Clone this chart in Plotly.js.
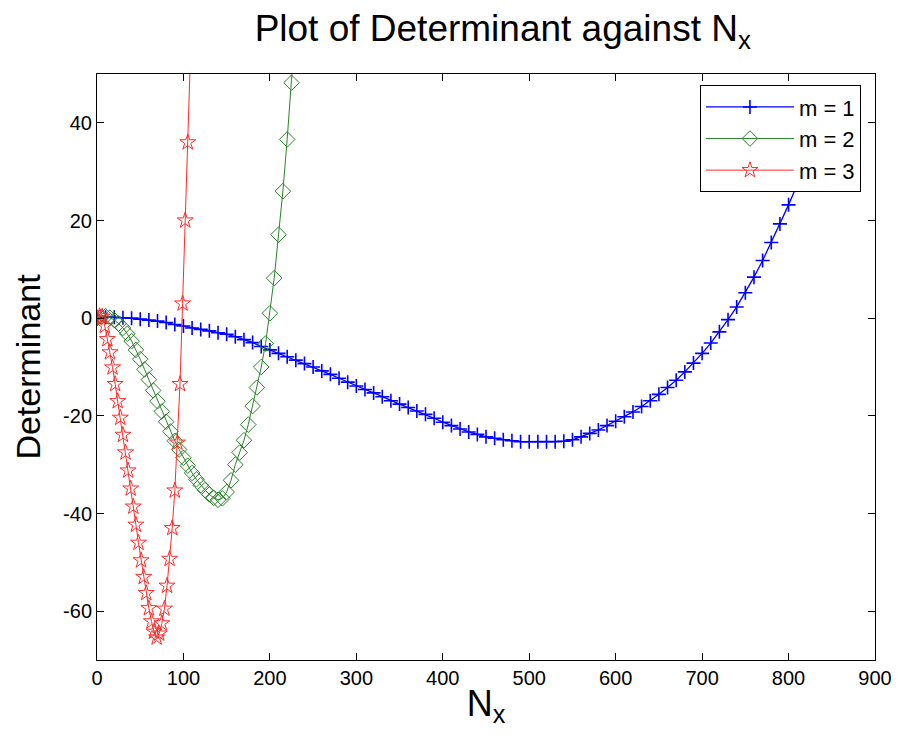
<!DOCTYPE html>
<html>
<head>
<meta charset="utf-8">
<script src="https://cdn.plot.ly/plotly-3.0.1.min.js"></script>
<style>html,body{margin:0;padding:0;background:#fff;}#chart{width:901px;height:746px;}</style>
</head>
<body>
<div id="chart"></div>
<script>
// m = 1 (N_x step 10)
const xM1 = [0,10,20,30,40,50,60,70,80,90,100,110,120,130,140,150,160,170,180,190,200,210,220,230,240,250,260,270,280,290,300,310,320,330,340,350,360,370,380,390,400,410,420,430,440,450,460,470,480,490,500,510,520,530,540,550,560,570,580,590,600,610,620,630,640,650,660,670,680,690,700,710,720,730,740,750,760,770,780,790,800,810,820,830,840];
const yM1 = [0,0.2,0.2,0.1,0,-0.2,-0.4,-0.6,-0.9,-1.3,-1.6,-2.0,-2.3,-2.6,-3.0,-3.3,-3.8,-4.4,-5.0,-5.8,-6.5,-7.2,-7.9,-8.6,-9.3,-10.0,-10.8,-11.5,-12.3,-13.1,-13.9,-14.6,-15.3,-16.1,-16.9,-17.6,-18.3,-19.0,-19.7,-20.5,-21.3,-22.0,-22.7,-23.3,-23.8,-24.3,-24.6,-24.9,-25.1,-25.3,-25.3,-25.3,-25.3,-25.3,-25.2,-24.9,-24.3,-23.6,-22.9,-22.0,-21.1,-20.2,-19.2,-18.1,-16.9,-15.6,-14.2,-12.7,-11.0,-9.2,-7.2,-5.1,-2.8,-0.3,2.3,5.2,8.4,11.8,15.5,19.3,23.2,27.3,31.7,36.3,41.1];
// m = 2 (N_x step 5)
const xM2 = [0,5,10,15,20,25,30,35,40,45,50,55,60,65,70,75,80,85,90,95,100,105,110,115,120,125,130,135,140,145,150,155,160,165,170,175,180,185,190,195,200,205,210,215,220,225,230];
const yM2 = [0,0.3,0.4,0.1,-0.4,-1.1,-2.0,-3.2,-4.7,-6.5,-8.4,-10.5,-12.6,-14.8,-17.0,-19.1,-21.2,-23.2,-25.1,-26.9,-28.6,-30.2,-31.7,-33.0,-34.2,-35.2,-36.1,-36.8,-37.2,-36.9,-35.6,-33.2,-30.0,-27.5,-25.0,-21.8,-18.0,-14.2,-10.0,-5.2,1.0,8.2,17.1,26.0,36.6,48.2,61.0];
// m = 3 (N_x step 3)
const xM3 = [0,3,6,9,12,15,18,21,24,27,30,33,36,39,42,45,48,51,54,57,60,63,66,69,72,75,78,81,84,87,90,93,96,99,102,105,108,111];
const yM3 = [0,0.4,0.3,-1.6,-4.3,-7.0,-10.1,-13.5,-17.0,-20.4,-23.9,-27.5,-31.2,-34.9,-38.6,-42.3,-46.0,-49.6,-53.0,-56.3,-59.4,-62.1,-64.2,-65.4,-64.6,-62.5,-59.5,-54.8,-49.3,-43.0,-35.3,-25.5,-13.5,3.0,20.0,36.0,52.0,70.0];

const seriesNames = ["m = 1", "m = 2", "m = 3"];
const xTickVals = [0,100,200,300,400,500,600,700,800,900];
const yTickVals = [-60,-40,-20,0,20,40];
const yTickText = ["-60","-40","-20","0","20","40"];

const FONT = "Liberation Sans, Arial, Helvetica, sans-serif";

const traces = [
  {x: xM1, y: yM1, name: seriesNames[0], type: "scatter", mode: "lines+markers",
   line: {color: "#0000ff", width: 1.3},
   marker: {symbol: "cross-thin-open", size: 10, color: "#0000ff", line: {color: "#0000ff", width: 1.6}}},
  {x: xM2, y: yM2, name: seriesNames[1], type: "scatter", mode: "lines+markers",
   line: {color: "#288428", width: 1},
   marker: {symbol: "diamond-open", size: 12, color: "#288428", line: {color: "#288428", width: 1}}},
  {x: xM3, y: yM3, name: seriesNames[2], type: "scatter", mode: "lines+markers",
   line: {color: "#ff2a2a", width: 1},
   marker: {symbol: "star-open", size: 12, color: "#ff2a2a", line: {color: "#ff2a2a", width: 1}}}
];

const axisCommon = {
  showline: true, linecolor: "#000", linewidth: 1, mirror: "allticks",
  ticks: "inside", ticklen: 7, tickwidth: 1, tickcolor: "#000",
  showgrid: false, zeroline: false,
  tickfont: {family: FONT, size: 20, color: "#000"}
};

const layout = {
  width: 901, height: 746,
  margin: {l: 97, r: 26, t: 74, b: 86},
  paper_bgcolor: "#fff", plot_bgcolor: "#fff",
  font: {family: FONT, color: "#000"},
  title: {text: "Plot of Determinant against N<sub>x</sub>", font: {family: FONT, size: 37, color: "#000"},
          x: 0.558, xanchor: "center", y: 0.962, yanchor: "middle"},
  xaxis: Object.assign({}, axisCommon, {range: [0, 900], tickmode: "array", tickvals: xTickVals,
          title: {text: "N<sub>x</sub>", font: {family: FONT, size: 36, color: "#000"}, standoff: 2}}),
  yaxis: Object.assign({}, axisCommon, {range: [-70, 50], tickmode: "array", tickvals: yTickVals, ticktext: yTickText,
          title: {text: "Determinant", font: {family: FONT, size: 34, color: "#000"}, standoff: 12}}),
  showlegend: true,
  legend: {x: 0.775, y: 0.981, xanchor: "left", yanchor: "top", bgcolor: "#fff",
           bordercolor: "#000", borderwidth: 1, font: {family: FONT, size: 22, color: "#000"},
           itemwidth: 88, tracegroupgap: 0}
};

Plotly.newPlot("chart", traces, layout, {displayModeBar: false, staticPlot: true});
</script>
</body>
</html>
